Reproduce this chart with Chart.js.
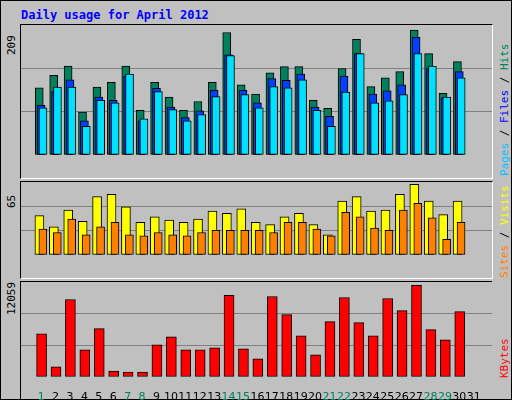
<!DOCTYPE html>
<html>
<head>
<meta charset="utf-8">
<script src="https://cdn.jsdelivr.net/npm/chart.js@4"></script>
<style>
  body { margin: 0; background: #fff; }
  #frame { position: absolute; left: 0; top: 0; width: 510px; height: 398px; background: #C0C0C0; border: 1px solid #000; }
  .panel { position: absolute; left: 19px; width: 471px; border-top: 1px solid #000; border-left: 1px solid #000; border-right: 1px solid #fff; border-bottom: 1px solid #fff; }
  .title { position: absolute; left: 20px; top: 7px; font: bold 12px "DejaVu Sans Mono", monospace; color: #0000FF; }
  .vlab { position: absolute; font: 11px "DejaVu Sans Mono", monospace; transform: rotate(-90deg); transform-origin: left top; white-space: nowrap; }
</style>
</head>
<body>
<div id="frame">
  <div class="title">Daily usage for April 2012</div>
  <div class="panel" style="top:23px;height:153px"><canvas id="top"></canvas></div>
  <div class="panel" style="top:180px;height:96px"><canvas id="mid"></canvas></div>
  <div class="panel" style="top:280px;height:118px;border-right:none;border-bottom:none"><canvas id="bot"></canvas></div>
  <div class="vlab" style="left:4px;top:54px">209</div>
  <div class="vlab" style="left:4px;top:207px">65</div>
  <div class="vlab" style="left:4px;top:314px">12059</div>
  <div class="vlab" style="left:497px;top:175px"><span style="color:#00C0FF">Pages</span> / <span style="color:#0000FF">Files</span> / <span style="color:#00805C">Hits</span></div>
  <div class="vlab" style="left:497px;top:277px"><span style="color:#FF8000">Sites</span> / <span style="color:#FFFF00">Visits</span></div>
  <div class="vlab" style="left:497px;top:377px;color:#FF0000">KBytes</div>
</div>
<script>
// ── Data ─────────────────────────────────────────────────────────────────────
const days = Array.from({ length: 31 }, (_, i) => i + 1);
const weekendDays = [1, 7, 8, 14, 15, 21, 22, 28, 29];
const maxLabels = [209, 65, 12059];

const hits  = [108,128,143,69,109,117,143,72,117,93,72,86,117,197,113,98,132,142,142,88,75,139,186,110,124,134,201,163,99,150];
const files = [80,102,121,55,93,88,127,55,107,77,60,71,104,161,104,84,123,120,130,77,62,127,163,98,103,113,189,139,92,134];
const pages = [76,109,109,46,88,84,130,58,102,73,55,65,94,160,97,76,110,108,121,72,46,101,163,84,87,97,163,143,93,124];

const visits = [35,25,40,30,52,54,43,29,34,31,29,32,39,37,41,29,27,34,37,27,18,48,52,39,40,54,63,48,36,48];
const sites  = [23,20,32,18,25,29,18,17,20,18,17,20,22,22,22,22,20,29,29,23,17,38,34,24,22,40,46,33,14,29];

const kbytes = [5495,1278,9841,3450,6134,767,639,639,4090,5112,3450,3450,3706,10352,3578,2300,10224,7924,5240,2812,7029,10096,6901,5240,9969,8435,11630,6007,4729,8307];

// ── Helpers ──────────────────────────────────────────────────────────────────
const pts = (arr, off) => arr.map((v, i) => ({ x: i + 1 + off, y: v }));

function bars(label, arr, off, color, width) {
    return { label, data: pts(arr, off), backgroundColor: color, borderColor: '#000',
             borderWidth: 1, borderSkipped: false, barThickness: width, grouped: false };
}

// first dataset is painted on top
function makeChart(id, datasets, max, showX) {
    new Chart(document.getElementById(id), {
        type: 'bar',
        data: { datasets },
        options: {
            responsive: true, maintainAspectRatio: false, animation: false,
            layout: { padding: 0 },
            plugins: { legend: { display: false }, tooltip: { enabled: false } },
            scales: {
                x: {
                    type: 'linear', min: 0.13, max: 31.74, display: showX,
                    grid: { display: false }, border: { display: false },
                    afterBuildTicks: s => { s.ticks = days.map(d => ({ value: d })); },
                    afterFit: s => { s.height = 23; },
                    ticks: {
                        autoSkip: false, maxRotation: 0, padding: 6,
                        font: { family: 'DejaVu Sans', size: 11 },
                        color: c => weekendDays.includes(c.tick.value) ? '#00805C' : '#000'
                    }
                },
                y: {
                    min: 0, max,
                    afterBuildTicks: s => { s.ticks = [0, 1, 2, 3].map(k => ({ value: max * k / 3 })); },
                    afterFit: s => { s.width = 0; },
                    ticks: { display: false },
                    border: { display: false },
                    grid: { drawTicks: false, color: c => (c.index === 1 || c.index === 2) ? '#808080' : 'rgba(0,0,0,0)' }
                }
            }
        }
    });
}

makeChart('top', [
    bars('Pages', pages, 0.13, '#00E0FF', 8),
    bars('Files', files, 0, '#0040FF', 8),
    bars('Hits', hits, -0.13, '#00805C', 8)
], maxLabels[0], false);

makeChart('mid', [
    bars('Sites', sites, 0.12, '#FF8000', 8),
    bars('Visits', visits, -0.12, '#FFFF00', 9)
], maxLabels[1], false);

makeChart('bot', [
    bars('KBytes', kbytes, 0.03, '#FF0000', 10)
], maxLabels[2], true);
</script>
</body>
</html>
